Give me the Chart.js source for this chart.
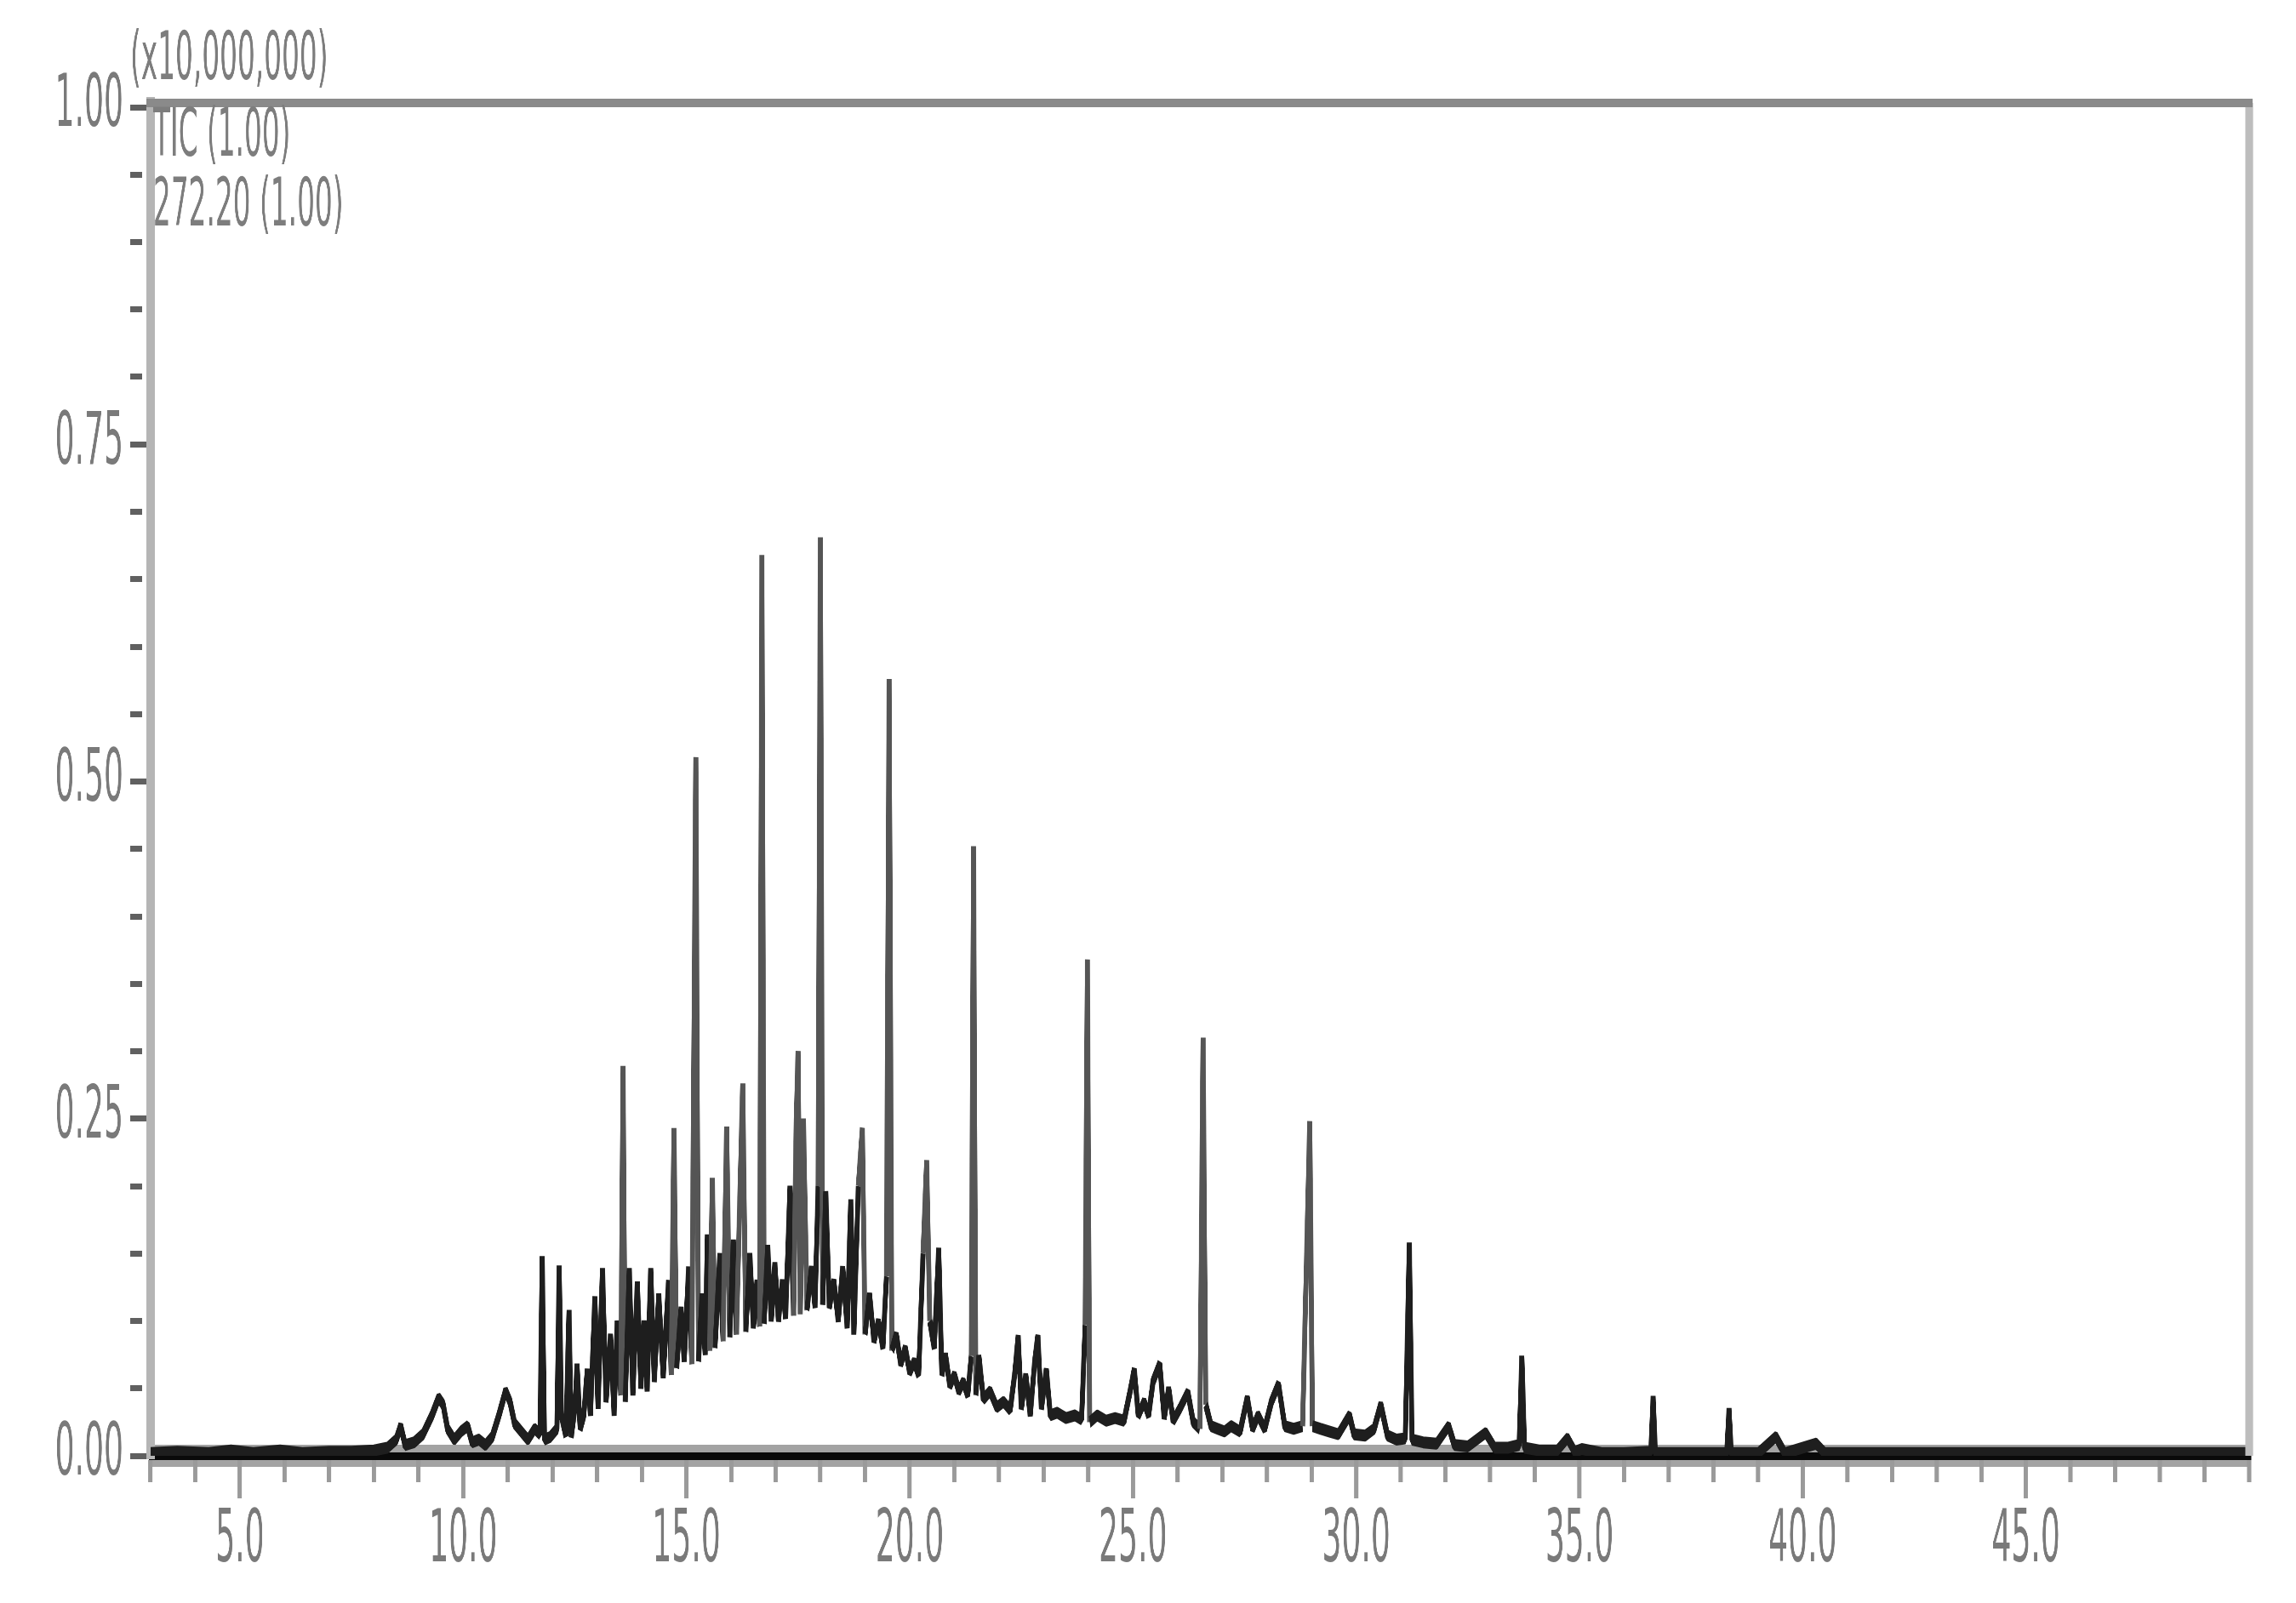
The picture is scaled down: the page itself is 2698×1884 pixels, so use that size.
<!DOCTYPE html>
<html>
<head>
<meta charset="utf-8">
<title>TIC chromatogram</title>
<script src="https://cdn.jsdelivr.net/npm/chart.js@4.4.0/dist/chart.umd.min.js"></script>
<style>
  html, body { margin: 0; padding: 0; background: #fff; }
  #wrap { width: 2698px; height: 1884px; overflow: hidden; }
</style>
</head>
<body>
<div id="wrap"><canvas id="tic"></canvas></div>
<script>
// retention time (min) and intensity (x10,000,000)
const ticTrace = [
  [3.0, 0.002], [3.6, 0.003], [4.3, 0.002], [4.8, 0.004], [5.3, 0.002], [5.9, 0.004],
  [6.4, 0.002], [7.0, 0.003], [7.5, 0.003], [8.0, 0.004], [8.3, 0.006], [8.5, 0.012],
  [8.6, 0.022], [8.7, 0.008], [8.9, 0.010], [9.1, 0.016], [9.3, 0.030], [9.45, 0.043],
  [9.55, 0.038], [9.65, 0.020], [9.8, 0.012], [9.95, 0.018], [10.1, 0.022], [10.2, 0.010],
  [10.35, 0.012], [10.5, 0.008], [10.65, 0.014], [10.8, 0.030], [10.95, 0.048], [11.05, 0.040],
  [11.15, 0.024], [11.3, 0.018], [11.45, 0.012], [11.6, 0.020], [11.72, 0.016], [11.77, 0.148],
  [11.82, 0.012], [11.95, 0.014], [12.1, 0.020], [12.15, 0.141], [12.2, 0.030], [12.3, 0.015],
  [12.37, 0.108], [12.42, 0.014], [12.5, 0.035], [12.55, 0.068], [12.62, 0.020], [12.7, 0.030],
  [12.78, 0.064], [12.85, 0.030], [12.95, 0.118], [13.02, 0.035], [13.12, 0.139], [13.2, 0.040],
  [13.3, 0.090], [13.38, 0.030], [13.45, 0.100], [13.53, 0.045], [13.58, 0.289], [13.63, 0.040],
  [13.72, 0.139], [13.8, 0.045], [13.9, 0.129], [13.98, 0.050], [14.05, 0.100], [14.12, 0.048],
  [14.2, 0.139], [14.28, 0.055], [14.38, 0.120], [14.48, 0.058], [14.6, 0.130], [14.66, 0.060],
  [14.72, 0.243], [14.78, 0.065], [14.88, 0.110], [14.95, 0.070], [15.05, 0.140], [15.12, 0.068],
  [15.21, 0.518], [15.27, 0.070], [15.35, 0.120], [15.42, 0.075], [15.47, 0.164], [15.52, 0.078],
  [15.58, 0.206], [15.64, 0.080], [15.75, 0.150], [15.82, 0.085], [15.9, 0.244], [15.97, 0.088],
  [16.05, 0.160], [16.12, 0.090], [16.26, 0.276], [16.33, 0.092], [16.42, 0.150], [16.5, 0.095],
  [16.58, 0.130], [16.64, 0.096], [16.69, 0.668], [16.74, 0.098], [16.82, 0.156], [16.9, 0.100],
  [16.98, 0.143], [17.06, 0.100], [17.15, 0.130], [17.22, 0.102], [17.32, 0.200], [17.4, 0.104],
  [17.46, 0.250], [17.5, 0.300], [17.55, 0.105], [17.62, 0.250], [17.7, 0.108], [17.8, 0.140],
  [17.88, 0.110], [17.95, 0.200], [18.0, 0.681], [18.05, 0.112], [18.12, 0.196], [18.2, 0.110],
  [18.3, 0.130], [18.4, 0.100], [18.5, 0.140], [18.6, 0.095], [18.68, 0.190], [18.75, 0.090],
  [18.85, 0.200], [18.94, 0.243], [19.0, 0.090], [19.1, 0.120], [19.2, 0.085], [19.3, 0.100],
  [19.4, 0.080], [19.48, 0.133], [19.54, 0.576], [19.6, 0.078], [19.7, 0.090], [19.8, 0.068],
  [19.9, 0.080], [20.0, 0.062], [20.1, 0.070], [20.2, 0.060], [20.3, 0.150], [20.38, 0.219],
  [20.45, 0.100], [20.55, 0.080], [20.65, 0.154], [20.72, 0.060], [20.8, 0.075], [20.9, 0.052],
  [21.0, 0.060], [21.1, 0.048], [21.2, 0.055], [21.3, 0.045], [21.38, 0.074], [21.43, 0.452],
  [21.48, 0.045], [21.55, 0.074], [21.65, 0.042], [21.8, 0.048], [21.95, 0.036], [22.1, 0.040],
  [22.25, 0.034], [22.35, 0.060], [22.43, 0.089], [22.5, 0.035], [22.6, 0.060], [22.7, 0.030],
  [22.8, 0.070], [22.87, 0.089], [22.95, 0.035], [23.06, 0.064], [23.15, 0.030], [23.3, 0.032],
  [23.5, 0.028], [23.7, 0.030], [23.85, 0.027], [23.93, 0.097], [23.98, 0.368], [24.03, 0.025],
  [24.2, 0.030], [24.4, 0.026], [24.6, 0.028], [24.8, 0.026], [24.95, 0.050], [25.03, 0.064],
  [25.12, 0.030], [25.25, 0.040], [25.35, 0.030], [25.45, 0.055], [25.6, 0.068], [25.7, 0.028],
  [25.8, 0.050], [25.9, 0.026], [26.05, 0.035], [26.23, 0.047], [26.35, 0.025], [26.5, 0.020],
  [26.57, 0.310], [26.63, 0.038], [26.75, 0.022], [26.9, 0.020], [27.05, 0.018], [27.2, 0.022],
  [27.4, 0.018], [27.56, 0.043], [27.68, 0.020], [27.8, 0.030], [27.95, 0.020], [28.1, 0.040],
  [28.26, 0.053], [28.4, 0.022], [28.6, 0.020], [28.8, 0.022], [28.96, 0.248], [29.02, 0.022],
  [29.2, 0.020], [29.4, 0.018], [29.6, 0.016], [29.85, 0.030], [29.95, 0.016], [30.2, 0.015],
  [30.4, 0.020], [30.55, 0.038], [30.7, 0.015], [30.9, 0.012], [31.1, 0.013], [31.19, 0.158],
  [31.25, 0.012], [31.5, 0.010], [31.8, 0.009], [32.07, 0.022], [32.2, 0.008], [32.5, 0.007],
  [32.9, 0.017], [33.1, 0.006], [33.4, 0.006], [33.65, 0.008], [33.71, 0.074], [33.77, 0.006],
  [34.1, 0.004], [34.5, 0.004], [34.73, 0.013], [34.9, 0.003], [35.05, 0.005], [35.5, 0.002],
  [36.0, 0.002], [36.6, 0.003], [36.65, 0.044], [36.7, 0.002], [37.3, 0.002], [38.0, 0.002],
  [38.3, 0.002], [38.35, 0.035], [38.4, 0.002], [39.0, 0.002], [39.4, 0.014], [39.6, 0.002],
  [40.3, 0.009], [40.5, 0.002], [41.0, 0.002], [42.0, 0.002], [43.5, 0.002], [45.0, 0.002],
  [47.0, 0.002], [50.0, 0.002]
];

const xMajorTicks = [5, 10, 15, 20, 25, 30, 35, 40, 45];
const yMajorTicks = [0, 0.25, 0.5, 0.75, 1.0];
const headerLines = ['(x10,000,000)', 'TIC (1.00)', '272.20 (1.00)'];

// the original printout is squeezed sideways: draw wide, show at 2698px
const SQUEEZE = 0.42;
const W = 2698, H = 1884;
const sx = v => v / SQUEEZE;

const canvas = document.getElementById('tic');
canvas.width = Math.round(sx(W));
canvas.height = H;
canvas.style.width = W + 'px';
canvas.style.height = H + 'px';

const font = "'DejaVu Sans', sans-serif";

function isMajorX(v) { return xMajorTicks.some(t => Math.abs(t - v) < 1e-6); }
function isMajorY(v) { return yMajorTicks.some(t => Math.abs(t - v) < 1e-6); }

// frame, baseline halo and header text
const framePlugin = {
  id: 'frame',
  beforeDraw(chart) {
    const { ctx, chartArea: a } = chart;
    ctx.save();
    ctx.fillStyle = '#a3a3a3';
    ctx.fillRect(a.left, a.bottom - 13, a.right - a.left, 26);
    ctx.restore();
  },
  afterDraw(chart) {
    const { ctx, chartArea: a } = chart;
    ctx.save();
    ctx.strokeStyle = '#bdbdbd';
    ctx.lineWidth = sx(9);
    ctx.beginPath();
    ctx.moveTo(a.right, a.top - 5);
    ctx.lineTo(a.right, a.bottom);
    ctx.stroke();
    ctx.strokeStyle = '#8a8a8a';
    ctx.lineWidth = 10;
    ctx.beginPath();
    ctx.moveTo(a.left - sx(5), a.top - 5);
    ctx.lineTo(a.right + sx(4), a.top - 5);
    ctx.stroke();

    ctx.fillStyle = '#7d7d7d';
    ctx.font = '78px ' + font;
    ctx.textBaseline = 'middle';
    ctx.textAlign = 'left';
    ctx.fillText(headerLines[0], sx(153), 73);
    ctx.fillText(headerLines[1], sx(180), 163);
    ctx.fillText(headerLines[2], sx(180), 245);
    ctx.restore();
  }
};

new Chart(canvas.getContext('2d'), {
  type: 'line',
  data: {
    datasets: [{
      label: 'TIC',
      data: ticTrace.map(p => ({ x: p[0], y: p[1] })),
      borderColor: '#1e1e1e',
      borderWidth: 14,
      borderJoinStyle: 'bevel',
      pointRadius: 0,
      tension: 0,
      fill: false,
      // tall isolated peaks print lighter than the dense hump
      segment: {
        borderColor: c => Math.max(c.p0.parsed.y, c.p1.parsed.y) > 0.2 ? '#555555' : undefined
      }
    }]
  },
  options: {
    responsive: false,
    animation: false,
    devicePixelRatio: 1,
    layout: { padding: { left: 0, right: sx(55), top: 126, bottom: 0 } },
    plugins: { legend: { display: false }, tooltip: { enabled: false } },
    scales: {
      x: {
        type: 'linear',
        min: 3,
        max: 50,
        afterFit(scale) { scale.height = 173; },
        border: { display: true, color: '#0a0a0a', width: 9 },
        grid: {
          drawOnChartArea: false,
          drawTicks: true,
          tickLength: 50,
          tickWidth: sx(5),
          lineWidth: sx(5),
          color: '#9a9a9a',
          tickColor: '#9a9a9a',
          tickBorderDash: c => (c.tick && isMajorX(c.tick.value)) ? [] : [26, 200]
        },
        ticks: {
          stepSize: 1,
          autoSkip: false,
          maxRotation: 0,
          padding: 0,
          color: '#7a7a7a',
          font: { family: font, size: 86 },
          callback: v => isMajorX(v) ? v.toFixed(1) : ''
        }
      },
      y: {
        min: 0,
        max: 1,
        afterFit(scale) { scale.width = sx(177); },
        border: { display: true, color: '#b5b5b5', width: sx(10) },
        grid: {
          drawOnChartArea: false,
          drawTicks: true,
          tickLength: sx(24),
          tickWidth: 7,
          lineWidth: 7,
          color: '#606060',
          tickColor: '#606060',
          tickBorderDash: c => (c.tick && isMajorY(c.tick.value)) ? [] : [sx(14), 400]
        },
        ticks: {
          stepSize: 0.05,
          autoSkip: false,
          padding: sx(8),
          color: '#7a7a7a',
          font: { family: font, size: 86 },
          callback: v => isMajorY(v) ? v.toFixed(2) : ''
        }
      }
    }
  },
  plugins: [framePlugin]
});
</script>
</body>
</html>
